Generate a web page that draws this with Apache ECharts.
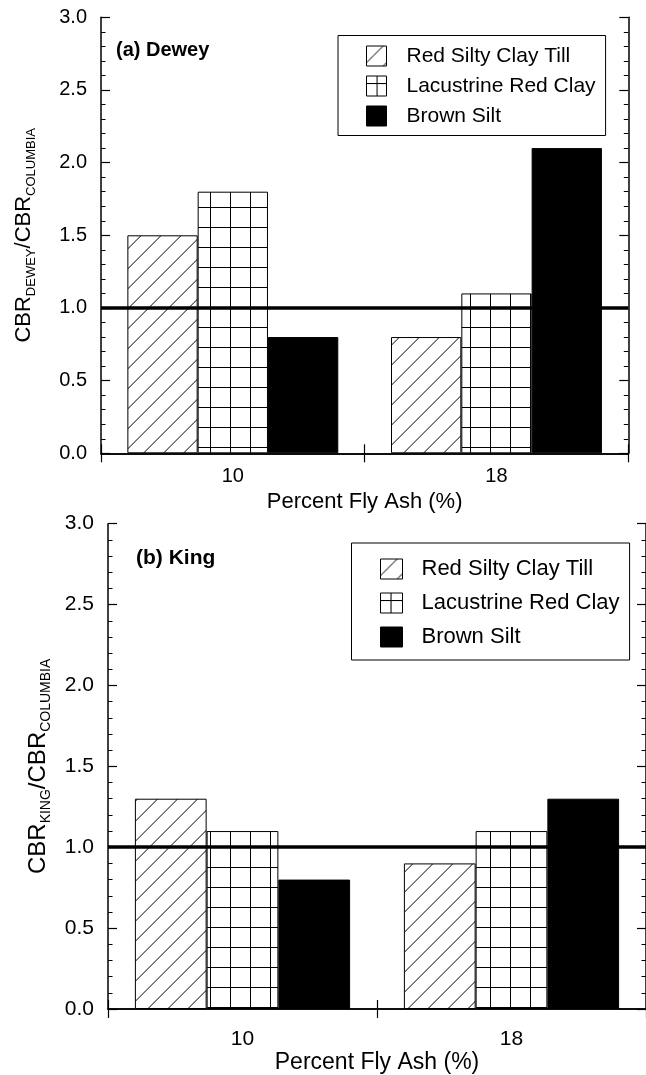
<!DOCTYPE html>
<html>
<head>
<meta charset="utf-8">
<script src="https://cdn.jsdelivr.net/npm/echarts@6/dist/echarts.min.js"></script>
<style>
html,body{margin:0;padding:0;background:#fff;}
#chart{width:646px;height:1075px;}
</style>
</head>
<body>
<div id="chart"></div>
<script>
// ---- data ----
const categories = ['10', '18'];
const seriesNames = ['Red Silty Clay Till', 'Lacustrine Red Clay', 'Brown Silt'];
const deweyRedSilty = [1.5, 0.8];
const deweyLacustrine = [1.8, 1.1];
const deweyBrownSilt = [0.8, 2.1];
const kingRedSilty = [1.3, 0.9];
const kingLacustrine = [1.1, 1.1];
const kingBrownSilt = [0.8, 1.3];
const referenceRatio = [1.0, 1.0];
const yTicks = [0, 3, 0.5];
const xTitle = 'Percent Fly Ash (%)';
const panelTitles = ['(a) Dewey', '(b) King'];

// ---- fill patterns ----
function hatchTile() {
  const s = 20, c0 = 16.6, cv = document.createElement('canvas');
  cv.width = s; cv.height = s;
  const g = cv.getContext('2d');
  g.fillStyle = '#fff'; g.fillRect(0, 0, s, s);
  g.strokeStyle = '#000'; g.lineWidth = 1;
  g.beginPath();
  for (let k = -1; k <= 2; k++) {
    const c = c0 + s * k;
    g.moveTo(-3, c + 3); g.lineTo(c + 3, -3);
  }
  g.stroke();
  return cv;
}
function gridTile() {
  const s = 20, cv = document.createElement('canvas');
  cv.width = s; cv.height = s;
  const g = cv.getContext('2d');
  g.fillStyle = '#fff'; g.fillRect(0, 0, s, s);
  g.fillStyle = '#000';
  g.fillRect(0, 7, s, 1);
  g.fillRect(10, 0, 1, s);
  return cv;
}
const fills = [
  { image: hatchTile(), repeat: 'repeat' },
  { image: gridTile(), repeat: 'repeat' },
  '#000'
];

const FONT = 'Liberation Sans, Arial, Helvetica, sans-serif';
const chart = echarts.init(document.getElementById('chart'));

function yAxes(gridIndex, fs, nameGap, sub, mfs, sfs) {
  const base = {
    gridIndex: gridIndex, type: 'value',
    min: yTicks[0], max: yTicks[1], interval: yTicks[2],
    axisLine: { show: true, lineStyle: { color: '#000', width: 1.5 } },
    axisTick: { show: true, inside: true, length: 9, lineStyle: { color: '#000', width: 1.2 } },
    minorTick: { show: true, splitNumber: 5, length: 4.5, lineStyle: { color: '#000', width: 1 } },
    splitLine: { show: false },
    minorSplitLine: { show: false }
  };
  return [
    Object.assign({}, base, {
      position: 'left',
      axisLabel: { show: true, color: '#000', fontSize: fs, fontFamily: FONT, margin: 14,
        formatter: v => v.toFixed(1) },
      name: '{m|CBR}{s|' + sub + '}{m|/CBR}{s|COLUMBIA}',
      nameLocation: 'middle', nameRotate: 90, nameGap: nameGap,
      nameTextStyle: {
        fontFamily: FONT, color: '#000',
        rich: {
          m: { fontSize: mfs, lineHeight: mfs + 3, verticalAlign: 'top', fontFamily: FONT, color: '#000' },
          s: { fontSize: sfs, lineHeight: sfs + 1, padding: [Math.round(mfs * 0.75), 0, 0, 0], verticalAlign: 'bottom', fontFamily: FONT, color: '#000' }
        }
      }
    }),
    Object.assign({}, base, { position: 'right', axisLabel: { show: false } })
  ];
}

function xAxes(gridIndex, fs, labelMargin, nameGap) {
  const base = {
    gridIndex: gridIndex, type: 'category', data: categories,
    axisLine: { show: true, lineStyle: { color: '#000', width: 1.5 } },
    axisTick: { show: true, inside: true, length: 9, lineStyle: { color: '#000', width: 1.2 } },
    splitLine: { show: false }
  };
  return [
    Object.assign({}, base, {
      position: 'bottom',
      axisLabel: { show: true, color: '#000', fontSize: fs, fontFamily: FONT, margin: labelMargin },
      name: xTitle, nameLocation: 'middle', nameGap: nameGap,
      nameTextStyle: { color: '#000', fontSize: fs + 2, fontFamily: FONT }
    }),
    Object.assign({}, base, { position: 'top', axisLabel: { show: false } })
  ];
}

function barSeries(data, idx, xi, yi, withRef) {
  const s = {
    name: seriesNames[idx], type: 'bar',
    xAxisIndex: xi, yAxisIndex: yi,
    data: data,
    barGap: '0%', barCategoryGap: '20%',
    itemStyle: { color: fills[idx], borderColor: '#000', borderWidth: 1 },
    emphasis: { disabled: true },
    animation: false
  };
  if (withRef) {
    s.markLine = {
      silent: true, symbol: ['none', 'none'],
      label: { show: false },
      lineStyle: { color: '#000', width: 3.5, type: 'solid' },
      data: [{ yAxis: referenceRatio[withRef - 1] }],
      z: 10
    };
  }
  return s;
}

function legendFor(left, top, padding, iw, ih, gap, fs, textPad, textW) {
  return {
    data: seriesNames, orient: 'vertical', left: left, top: top,
    padding: padding, itemWidth: iw, itemHeight: ih, itemGap: gap,
    icon: 'rect', selectedMode: false,
    borderColor: '#000', borderWidth: 1, backgroundColor: '#fff', borderRadius: 0,
    itemStyle: { borderColor: '#000', borderWidth: 1 },
    textStyle: { color: '#000', fontSize: fs, fontFamily: FONT, padding: [0, 0, 0, textPad], width: textW }
  };
}

const option = {
  animation: false,
  backgroundColor: '#fff',
  title: [
    { text: panelTitles[0], left: 116, top: 40, padding: 0,
      textStyle: { fontSize: 20, fontWeight: 'bold', color: '#000', fontFamily: FONT } },
    { text: panelTitles[1], left: 136, top: 548, padding: 0,
      textStyle: { fontSize: 21, fontWeight: 'bold', color: '#000', fontFamily: FONT } }
  ],
  legend: [
    legendFor(338, 35.5, [10, 10, 9, 28], 20, 20, 9, 21, 15, 195),
    legendFor(351.5, 543, [15, 10, 12, 28.5], 22, 20, 12, 22, 14, 202)
  ],
  grid: [
    { left: 99.7, top: 17.3, width: 528.6, height: 436 },
    { left: 108, top: 523.7, width: 546.4, height: 486 }
  ],
  xAxis: [].concat(xAxes(0, 20, 13, 38), xAxes(1, 21, 20, 42)),
  yAxis: [].concat(yAxes(0, 20, 63, 'DEWEY', 22, 13), yAxes(1, 21, 55, 'KING', 24, 14)),
  series: [
    barSeries(deweyRedSilty, 0, 0, 0, 0),
    barSeries(deweyLacustrine, 1, 0, 0, 0),
    barSeries(deweyBrownSilt, 2, 0, 0, 1),
    barSeries(kingRedSilty, 0, 2, 2, 0),
    barSeries(kingLacustrine, 1, 2, 2, 0),
    barSeries(kingBrownSilt, 2, 2, 2, 2)
  ]
};
chart.setOption(option);
</script>
</body>
</html>
